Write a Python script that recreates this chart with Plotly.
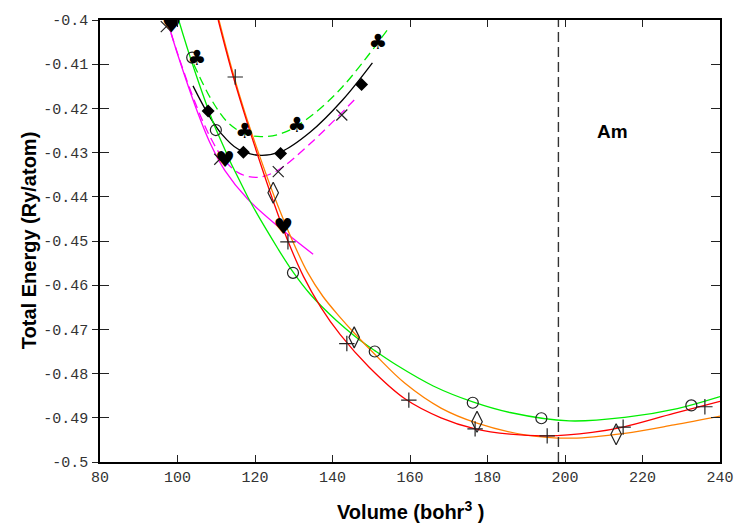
import plotly.graph_objects as go

# ---- fitted E(V) curves (volume in bohr^3, energy in Ry/atom) ----
red_v = [110.5, 113.9, 117.2, 120.6, 124.4, 128.5, 132.5, 137.0, 142.0, 149.4, 158.7, 168.0, 176.8, 185.8, 195.4, 207.0, 215.0, 228.1, 240.0]
red_e = [-0.4000, -0.4113, -0.4210, -0.4303, -0.4402, -0.4500, -0.4580, -0.4650, -0.4712, -0.4785, -0.4857, -0.4900, -0.4925, -0.4937, -0.4941, -0.4933, -0.4921, -0.4890, -0.4863]

orange_v = [110.7, 114.1, 117.4, 121.0, 125.1, 129.7, 133.5, 137.5, 141.8, 145.6, 151.1, 158.7, 168.0, 177.3, 190.0, 201.9, 215.4, 228.1, 240.0]
orange_e = [-0.4000, -0.4113, -0.4210, -0.4303, -0.4402, -0.4500, -0.4570, -0.4625, -0.4671, -0.4708, -0.4758, -0.4822, -0.4878, -0.4912, -0.4939, -0.4946, -0.4935, -0.4916, -0.4896]

green_v = [100.3, 104.1, 110.0, 118.1, 126.1, 129.8, 134.2, 141.0, 146.0, 150.9, 156.2, 166.0, 176.2, 185.8, 201.1, 215.4, 229.0, 240.0]
green_e = [-0.4000, -0.4106, -0.4249, -0.4400, -0.4520, -0.4570, -0.4620, -0.4680, -0.4717, -0.4748, -0.4779, -0.4828, -0.4864, -0.4888, -0.4907, -0.4899, -0.4879, -0.4852]

magenta_v = [97.3, 100.3, 104.6, 108.5, 112.2, 118.1, 125.7, 135.0]
magenta_e = [-0.4000, -0.4085, -0.4195, -0.4280, -0.4340, -0.4405, -0.4465, -0.4530]

magenta_dash_v = [97.3, 100.3, 104.6, 108.5, 112.2, 116.0, 120.6, 125.7, 134.2, 145.6]
magenta_dash_e = [-0.4000, -0.4083, -0.4188, -0.4266, -0.4318, -0.4347, -0.4356, -0.4341, -0.4280, -0.4181]

black_v = [104.0, 107.9, 111.3, 115.6, 120.8, 126.7, 134.2, 142.6, 150.3]
black_e = [-0.4149, -0.4213, -0.4257, -0.4292, -0.4306, -0.4298, -0.4254, -0.4181, -0.4097]

green_dash_v = [104.2, 108.8, 113.0, 117.3, 121.5, 127.4, 134.2, 142.6, 154.1]
green_dash_e = [-0.4100, -0.4181, -0.4232, -0.4257, -0.4264, -0.4255, -0.4219, -0.4151, -0.4023]

# ---- calculated points ----
circle_v = [103.8, 109.9, 129.8, 150.9, 176.2, 193.9, 232.6]
circle_e = [-0.4085, -0.4249, -0.4572, -0.4750, -0.4866, -0.4901, -0.4872]

open_diamond_v = [124.7, 145.6, 177.3, 213.2]
open_diamond_e = [-0.4391, -0.4718, -0.4909, -0.4937]

plus_v = [114.9, 128.5, 143.7, 159.7, 176.8, 195.4, 215.0, 236.1]
plus_e = [-0.4129, -0.4502, -0.4732, -0.4860, -0.4925, -0.4941, -0.4921, -0.4875]

filled_diamond_v = [107.9, 117.0, 126.6, 147.5]
filled_diamond_e = [-0.4206, -0.4299, -0.4302, -0.4146]

cross_v = [97.1, 110.9, 126.0, 142.4]
cross_e = [-0.4015, -0.4315, -0.4343, -0.4215]

club_v = [105.0, 117.3, 130.8, 151.7]
club_e = [-0.4090, -0.4254, -0.4241, -0.4053]

heart_v = [98.5, 112.3, 127.3]
heart_e = [-0.4015, -0.4319, -0.4471]

# experimental equilibrium volume of Am
am_volume = 198.3

x_ticks = [80, 100, 120, 140, 160, 180, 200, 220, 240]
y_ticks = [-0.40, -0.41, -0.42, -0.43, -0.44, -0.45, -0.46, -0.47, -0.48, -0.49, -0.50]
y_tick_text = ["-0.4", "-0.41", "-0.42", "-0.43", "-0.44", "-0.45", "-0.46", "-0.47", "-0.48", "-0.49", "-0.5"]

fig = go.Figure()

def curve(x, y, color, dash="solid"):
    fig.add_trace(go.Scatter(
        x=x, y=y, mode="lines", line=dict(color=color, width=1.3, dash=dash, shape="spline", smoothing=1.0),
        showlegend=False, hoverinfo="skip"))

curve(magenta_v, magenta_e, "#ff00ff")
curve(magenta_dash_v, magenta_dash_e, "#ff00ff", "9px,5px")
curve(green_dash_v, green_dash_e, "#00ee00", "9px,5px")
curve(black_v, black_e, "#000000")
curve(green_v, green_e, "#00ee00")
curve(orange_v, orange_e, "#ff8000")
curve(red_v, red_e, "#ff0000")

def markers(x, y, symbol, size, filled=False, lw=1.2):
    fig.add_trace(go.Scatter(
        x=x, y=y, mode="markers",
        marker=dict(symbol=symbol, size=size, color="#000000" if filled else "#222222",
                    line=dict(color="#222222", width=lw)),
        showlegend=False, hoverinfo="skip"))

markers(circle_v, circle_e, "circle-open", 11)
markers(open_diamond_v, open_diamond_e, "diamond-tall-open", 15)
markers(plus_v, plus_e, "cross-thin-open", 11)
markers(cross_v, cross_e, "x-thin-open", 11)
markers(filled_diamond_v, filled_diamond_e, "diamond", 10, filled=True, lw=0)

def glyphs(x, y, glyph, size):
    fig.add_trace(go.Scatter(
        x=x, y=y, mode="text", text=[glyph] * len(x), textposition="middle center",
        textfont=dict(family="DejaVu Sans", size=size, color="#000000"),
        showlegend=False, hoverinfo="skip"))

glyphs(club_v, club_e, "\u2663", 21)
glyphs(heart_v, heart_e, "\u2665", 22)

# carrier trace for the inner-tick overlay axis
fig.add_trace(go.Scatter(x=[None], y=[None], yaxis="y2", showlegend=False, hoverinfo="skip"))

fig.add_vline(x=am_volume, line=dict(color="#333333", width=1.4, dash="10px,5px"))

tick_font = dict(family="Liberation Mono", size=15, color="#333333")
title_font = dict(family="Liberation Sans", size=20, color="#000000")

fig.update_layout(
    width=746, height=525,
    margin=dict(l=100, r=16, t=20, b=63),
    paper_bgcolor="white", plot_bgcolor="white",
    xaxis=dict(range=[80, 240], tickvals=x_ticks, ticks="inside", ticklen=7, tickwidth=1.2,
               tickcolor="#222222", showline=True, linecolor="#000000", linewidth=1.5,
               mirror="ticks", showgrid=False, zeroline=False, tickfont=tick_font),
    yaxis=dict(range=[-0.5, -0.4], tickvals=y_ticks, ticktext=y_tick_text, ticks="outside",
               ticklen=6, tickwidth=1.2, tickcolor="#222222", showline=True, linecolor="#000000",
               linewidth=1.5, mirror=True, showgrid=False, zeroline=False, tickfont=tick_font,
               ticklabelstandoff=1),
    yaxis2=dict(range=[-0.5, -0.4], tickvals=y_ticks, overlaying="y", anchor="x", side="left",
                ticks="inside", ticklen=9, tickwidth=1.2, tickcolor="#222222", mirror="ticks",
                showticklabels=False, showgrid=False, zeroline=False, showline=False),
)

plot_w, plot_h = 746 - 100 - 16, 525 - 20 - 63

def px_to_paper(px, py):
    return (px - 100) / plot_w, 1 - (py - 20) / plot_h

yt_x, yt_y = px_to_paper(28, 241)
xt_x, xt_y = px_to_paper(415, 510)

fig.update_layout(annotations=[
    dict(text="<b>Am</b>", x=212.2, y=-0.4253, xref="x", yref="y", showarrow=False,
         xanchor="center", yanchor="middle",
         font=dict(family="Liberation Sans", size=19, color="#000000")),
    dict(text="<b>Total Energy (Ry/atom)</b>", x=yt_x, y=yt_y, xref="paper", yref="paper",
         xanchor="center", yanchor="middle", showarrow=False, textangle=-90, font=title_font),
    dict(text="<b>Volume (bohr<sup>3</sup> )</b>", x=xt_x, y=xt_y, xref="paper", yref="paper",
         xanchor="center", yanchor="middle", showarrow=False, font=title_font),
])

fig.write_html("out.html")
